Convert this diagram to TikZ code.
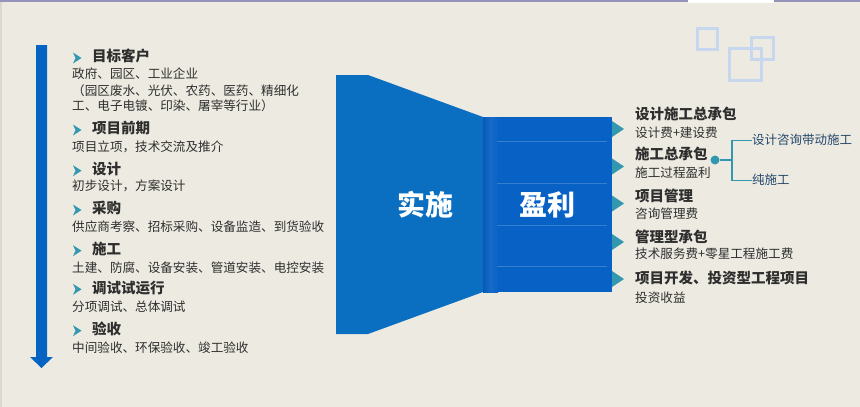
\documentclass[tikz,border=0pt]{standalone}
\usepackage{fontspec}
\setmainfont{Noto Sans CJK SC}
\definecolor{bgbeige}{HTML}{EDEBE1}
\definecolor{funnelblue}{HTML}{0A6FC0}
\definecolor{rectblue}{HTML}{0862C6}
\definecolor{arrowblue}{HTML}{0563C1}
\definecolor{tealmark}{HTML}{3397B0}
\definecolor{textgray}{HTML}{2E2E2E}
\definecolor{branchtext}{HTML}{24476B}
\definecolor{decoblue}{HTML}{C6D7EE}
\tikzset{
  txt/.style={anchor=west,inner sep=0pt,text height=0.88em,text depth=0.12em,text=textgray},
  head/.style={txt,font=\fontsize{14.5}{16}\selectfont\bfseries},
  sub/.style={txt,font=\fontsize{12.6}{14}\selectfont},
  big/.style={inner sep=0pt,text=white,font=\fontsize{28}{30}\selectfont\bfseries},
  branch/.style={txt,text=branchtext,font=\fontsize{12.5}{14}\selectfont},
  bullet/.pic={\fill[tealmark] (-4,-5.5) -- (4.5,0) -- (-4,5.5) -- (-1.5,0) -- cycle;},
  tip/.pic={\fill[tealmark] (0,-8) -- (12,0) -- (0,8) -- cycle;},
}
\begin{document}
\begin{tikzpicture}[x=1pt,y=-1pt]
\useasboundingbox (0,0) rectangle (860,407);
\fill[bgbeige] (0,0) rectangle (860,407);
\fill[black!8!bgbeige] (0,0) rectangle (2,407);
\fill[blue!20!gray!70] (0,0) rectangle (688,1.5);
\fill[white] (688,0) rectangle (774,2.5);
\fill[blue!20!gray!70] (774,0) rectangle (860,1.5);

%deco squares
\begin{scope}[decoblue,line width=3pt]
\draw (697,28) rectangle (717,49);
\draw (729,48) rectangle (761,80);
\draw (751,37) rectangle (773,59);
\end{scope}

%arrow
\fill[arrowblue] (36,45) -- (47,45) -- (47,357) -- (53,357) -- (41.5,368) -- (30,357) -- (36,357) -- cycle;

%left list
\foreach \y/\name/\t in {58/kehu/目标客户,130/qianqi/项目前期,170.7/sheji/设计,210/caigou/采购,
  250.7/shigong/施工,289.3/tiaoshi/调试试运行,330.7/yanshou/验收}{
  \pic at (77,\y) {bullet};
  \node[head] (\name) at (92,\y) {\t};
}
\node[sub] (kehu1) at (72,75) {政府、园区、工业企业};
\node[sub] (kehu2) at (72,91.7) {（园区废水、光伏、农药、医药、精细化};
\node[sub] (kehu3) at (72,106.7) {工、电子电镀、印染、屠宰等行业）};
\node[sub] (qianqi1) at (72,147.3) {项目立项，技术交流及推介};
\node[sub] (sheji1) at (72,186.7) {初步设计，方案设计};
\node[sub] (caigou1) at (72,227.7) {供应商考察、招标采购、设备监造、到货验收};
\node[sub] (shigong1) at (72,268.3) {土建、防腐、设备安装、管道安装、电控安装};
\node[sub] (tiaoshi1) at (72,307.3) {分项调试、总体调试};
\node[sub] (yanshou1) at (72,348.3) {中间验收、环保验收、竣工验收};

%funnel
\fill[funnelblue] (336,75) -- (368,75) -- (483,117) -- (483,292) -- (368,334) -- (336,334) -- cycle;
\fill[rectblue] (483,117) rectangle (612,292);
\shade[left color=black!8!rectblue,right color=rectblue,middle color=white!6!rectblue]
  (483,117) rectangle (498,292);
\foreach \y in {141,183,225,266}
  \draw[white!18!rectblue,line width=0.6pt] (497,\y) -- (607,\y);
\node[big] (shishi) at (425,205) {实施};
\node[big] (yingli) at (547,205) {盈利};

%right list
\foreach \y in {129,166.5,203.5,242,279}
  \pic at (612,\y) {tip};
\node[head] (zcb) at (635,116) {设计施工总承包};
\node[sub] (zcb1) at (635,133.3) {设计费+建设费};
\node[head] (sgzcb) at (635,156) {施工总承包};
\node[sub] (sgzcb1) at (635,173.3) {施工过程盈利};
\node[head] (xmgl) at (635,197.3) {项目管理};
\node[sub] (xmgl1) at (635,215) {咨询管理费};
\node[head] (glcb) at (635,239) {管理型承包};
\node[sub] (glcb1) at (635,255) {技术服务费+零星工程施工费};
\node[head] (kaifa) at (635,280) {项目开发、投资型工程项目};
\node[sub] (kaifa1) at (635,298.3) {投资收益};

%branches
\node[circle,fill=tealmark,inner sep=0pt,minimum size=9pt] (dot) at (715,160) {};
\node[branch] (daidong) at (752,140.7) {设计咨询带动施工};
\node[branch] (chun) at (752,180.7) {纯施工};
\coordinate (fork) at (732,160);
\draw[tealmark,line width=1.5pt] (dot) -- (fork);
\draw[tealmark,line width=1.5pt] (daidong.west) -- ++(-20,0) |- (chun.west);
\end{tikzpicture}
\end{document}
